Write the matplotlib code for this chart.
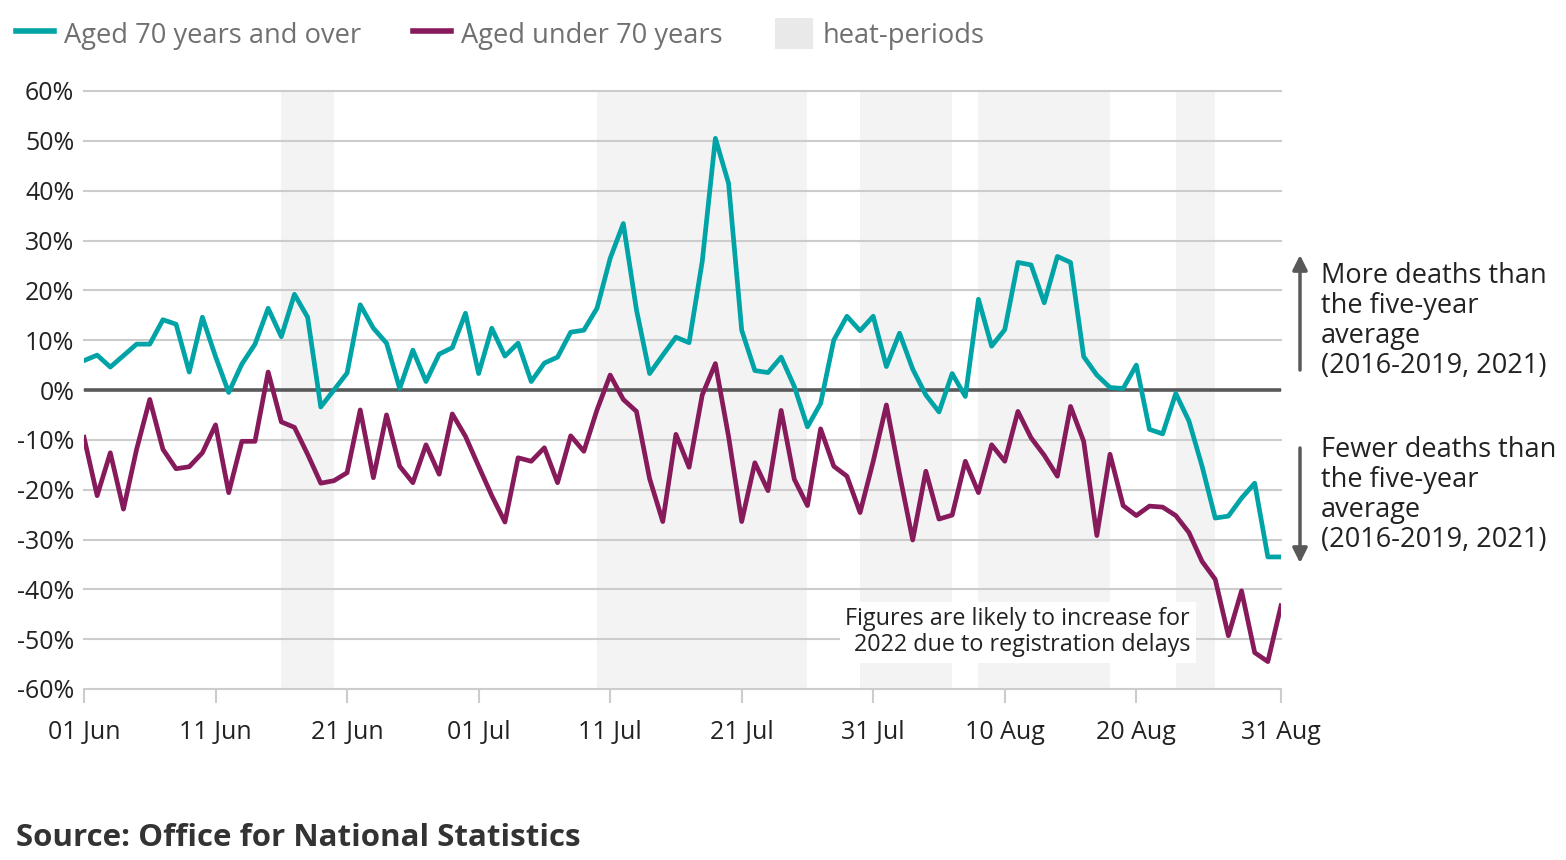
import matplotlib
matplotlib.use("Agg")
import matplotlib.pyplot as plt
import matplotlib.dates as mdates
from matplotlib.lines import Line2D
from matplotlib.patches import Patch
import pandas as pd

plt.rcParams["font.family"] = ["Open Sans", "DejaVu Sans"]

dates = pd.date_range("2022-06-01", "2022-08-31", freq="D")

aged_70_over = [
    5.9, 7.0, 4.6, 6.9, 9.2, 9.2, 14.1, 13.2, 3.6, 14.6,
    6.7, -0.5, 5.2, 9.2, 16.4, 10.7, 19.2, 14.6, -3.4, 0.0,
    3.4, 17.1, 12.4, 9.4, 0.3, 8.0, 1.7, 7.2, 8.5, 15.4,
    3.3, 12.4, 6.8, 9.4, 1.7, 5.4, 6.6, 11.6, 12.0, 16.4,
    26.4, 33.4, 16.1, 3.3, 7.0, 10.6, 9.5, 25.8, 50.5, 41.5,
    12.0, 3.9, 3.5, 6.6, 0.7, -7.4, -2.7, 10.0, 14.8, 11.9,
    14.8, 4.7, 11.4, 4.2, -1.0, -4.4, 3.3, -1.3, 18.2, 8.8,
    12.1, 25.6, 25.1, 17.5, 26.8, 25.6, 6.7, 3.0, 0.5, 0.3,
    5.0, -7.9, -8.8, -0.7, -6.2, -15.3, -25.7, -25.3, -21.7, -18.7,
    -33.5, -33.5,
]

aged_under_70 = [
    -9.5, -21.2, -12.6, -23.9, -11.9, -1.9, -11.9, -15.8, -15.4, -12.6,
    -7.0, -20.6, -10.3, -10.3, 3.6, -6.4, -7.5, -12.9, -18.7, -18.2,
    -16.6, -4.0, -17.6, -5.0, -15.3, -18.6, -11.0, -16.9, -4.8, -9.3,
    -15.3, -21.2, -26.5, -13.6, -14.3, -11.6, -18.6, -9.2, -12.3, -4.0,
    3.0, -1.9, -4.3, -17.8, -26.4, -8.9, -15.5, -1.0, 5.3, -9.3,
    -26.4, -14.6, -20.2, -4.1, -17.9, -23.2, -7.8, -15.3, -17.3, -24.6,
    -14.3, -3.0, -16.9, -30.1, -16.3, -25.9, -25.1, -14.3, -20.6, -11.0,
    -14.3, -4.3, -9.6, -13.1, -17.3, -3.3, -10.3, -29.2, -12.9, -23.2,
    -25.2, -23.3, -23.5, -25.2, -28.6, -34.4, -38.0, -49.3, -40.3, -52.7,
    -54.5, -43.3,
]

heat_starts = ["2022-06-16", "2022-07-10", "2022-07-30", "2022-08-08", "2022-08-23"]
heat_ends = ["2022-06-20", "2022-07-26", "2022-08-06", "2022-08-18", "2022-08-26"]

tick_dates = ["2022-06-01", "2022-06-11", "2022-06-21", "2022-07-01", "2022-07-11",
              "2022-07-21", "2022-07-31", "2022-08-10", "2022-08-20", "2022-08-31"]

teal = "#00a3a6"
purple = "#871a5b"
shade = "#f3f3f3"
grid_c = "#cccccc"
dark = "#595959"
text_c = "#222222"

fig = plt.figure(figsize=(15.66, 8.6), dpi=100)
ax = fig.add_axes([84 / 1566, 1 - 689 / 860, (1281 - 84) / 1566, (689 - 91) / 860])

for s, e in zip(heat_starts, heat_ends):
    ax.axvspan(pd.Timestamp(s), pd.Timestamp(e), color=shade, lw=0, zorder=0)

ax.set_ylim(-60, 60)
ax.set_xlim(dates[0], dates[-1])
ax.set_yticks(range(-60, 61, 10))
ax.set_yticklabels([f"{v}%" for v in range(-60, 61, 10)])
ax.yaxis.grid(True, color=grid_c, lw=1.5, zorder=1)
for gl in ax.get_ygridlines():
    gl.set_clip_on(False)
ax.axhline(0, color=dark, lw=2.6, zorder=2)

ax.plot(dates, aged_70_over, color=teal, lw=3.4, zorder=3)
ax.plot(dates, aged_under_70, color=purple, lw=3.4, zorder=3)

ax.set_xticks([pd.Timestamp(d) for d in tick_dates])
ax.xaxis.set_major_formatter(mdates.DateFormatter("%d %b"))

for sp in ax.spines.values():
    sp.set_visible(False)
ax.tick_params(axis="y", length=0, pad=7, labelsize=18, labelcolor=text_c)
ax.tick_params(axis="x", length=10, width=1.5, color=grid_c, pad=12,
               labelsize=18, labelcolor=text_c)

ax.text(0.924, 0.095, "Figures are likely to increase for\n2022 due to registration delays",
        transform=ax.transAxes, ha="right", va="center", multialignment="right",
        fontsize=16.8, color=text_c, linespacing=1.1, zorder=4,
        bbox=dict(facecolor="white", edgecolor="none", pad=4))

# legend across the top
handles = [
    Line2D([], [], color=teal, lw=4),
    Line2D([], [], color=purple, lw=4),
    Patch(facecolor="#e9e9e9", edgecolor="none"),
]
labels = ["Aged 70 years and over", "Aged under 70 years", "heat-periods"]
leg = fig.legend(handles, labels, loc="center left", bbox_to_anchor=(16 / 1566, 1 - 34 / 860),
                 ncol=3, frameon=False, fontsize=19.6, handlelength=1.4, handleheight=1.33,
                 handletextpad=0.37, columnspacing=1.9, borderaxespad=0, borderpad=0)
for t in leg.get_texts():
    t.set_color("#707070")

# direction arrows on the right
ax.annotate("", xy=(1300, 860 - 255), xytext=(1300, 860 - 370), xycoords="figure pixels",
            textcoords="figure pixels",
            arrowprops=dict(arrowstyle="-|>", color=dark, lw=2.5, mutation_scale=22,
                            shrinkA=0, shrinkB=0), annotation_clip=False)
ax.annotate("", xy=(1300, 860 - 563), xytext=(1300, 860 - 448), xycoords="figure pixels",
            textcoords="figure pixels",
            arrowprops=dict(arrowstyle="-|>", color=dark, lw=2.5, mutation_scale=22,
                            shrinkA=0, shrinkB=0), annotation_clip=False)
fig.text(1321 / 1566, 1 - 321 / 860, "More deaths than\nthe five-year\naverage\n(2016-2019, 2021)",
         va="center", ha="left", fontsize=19.5, color=text_c, linespacing=1.1)
fig.text(1321 / 1566, 1 - 495 / 860, "Fewer deaths than\nthe five-year\naverage\n(2016-2019, 2021)",
         va="center", ha="left", fontsize=19.5, color=text_c, linespacing=1.1)

fig.text(16 / 1566, 1 - 838 / 860, "Source: Office for National Statistics",
         va="center", ha="left", fontsize=22.5, fontweight="bold", color="#333333")

fig.savefig("out.png", dpi=100)
